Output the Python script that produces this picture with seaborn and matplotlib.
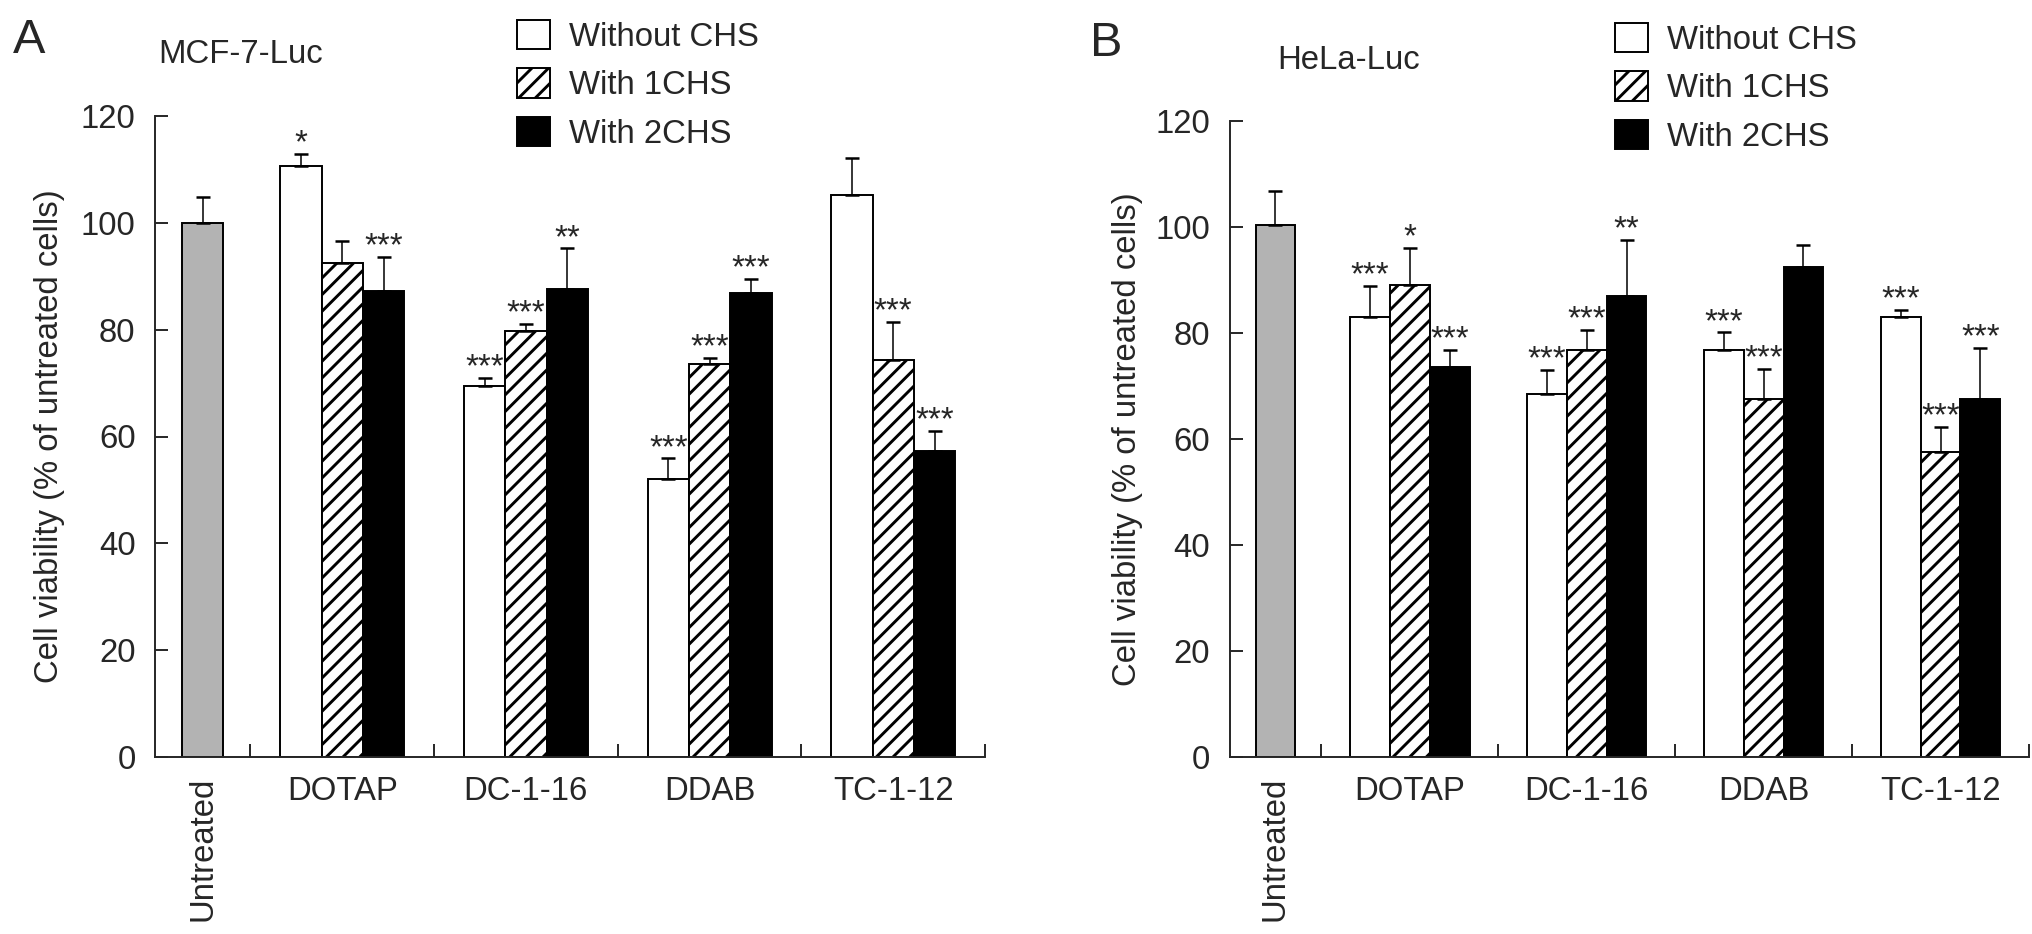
import numpy as np
import pandas as pd
import matplotlib
matplotlib.use('Agg')
import matplotlib.pyplot as plt
from matplotlib.patches import Patch
import seaborn as sns

# ---- data ----
groups = ['DOTAP', 'DC-1-16', 'DDAB', 'TC-1-12']
conditions = ['Without CHS', 'With 1CHS', 'With 2CHS']

mcf_untreated = 100.0
mcf_untreated_err = 4.9
mcf_without = [110.6, 69.4, 52.0, 105.2]
mcf_without_err = [2.3, 1.5, 3.9, 6.9]
mcf_1chs = [92.5, 79.7, 73.6, 74.4]
mcf_1chs_err = [4.1, 1.4, 1.1, 7.0]
mcf_2chs = [87.3, 87.7, 86.8, 57.3]
mcf_2chs_err = [6.3, 7.5, 2.7, 3.8]
mcf_stars_without = ['*', '***', '***', '']
mcf_stars_1chs = ['', '***', '***', '***']
mcf_stars_2chs = ['***', '**', '***', '***']

hela_untreated = 100.3
hela_untreated_err = 6.4
hela_without = [83.0, 68.4, 76.8, 83.0]
hela_without_err = [5.9, 4.6, 3.3, 1.3]
hela_1chs = [89.0, 76.8, 67.6, 57.5]
hela_1chs_err = [7.1, 3.7, 5.7, 4.7]
hela_2chs = [73.5, 87.0, 92.4, 67.6]
hela_2chs_err = [3.3, 10.6, 4.2, 9.6]
hela_stars_without = ['***', '***', '***', '***']
hela_stars_1chs = ['*', '***', '***', '***']
hela_stars_2chs = ['***', '**', '', '***']

# ---- style ----
FS = 23.7
UNTREATED_SLOT = 0.52   # width of the Untreated slot, in lipid-group units
BAR_W = 0.225
COLORS = ['white', 'white', 'black']
HATCHES = ['', '//', '']
GRAY = '#b3b3b3'
LW = 1.4

sns.set_style('ticks')
plt.rcParams['font.family'] = ['Liberation Sans', 'DejaVu Sans']
plt.rcParams['hatch.linewidth'] = 2.1
plt.rcParams['hatch.color'] = 'black'


def draw_panel(ax, untreated, untreated_err, means, errs, stars):
    pos = [UNTREATED_SLOT / 2 + 0.5 + i for i in range(len(groups))]
    rows = []
    for c, cond in enumerate(conditions):
        for g in range(len(groups)):
            rows.append({'pos': pos[g], 'cond': cond, 'value': means[c][g]})
    df = pd.DataFrame(rows)

    sns.barplot(x=[0.0], y=[untreated], native_scale=True, width=BAR_W,
                color=GRAY, saturation=1, edgecolor='black', linewidth=LW,
                errorbar=None, ax=ax)
    sns.barplot(data=df, x='pos', y='value', hue='cond', hue_order=conditions,
                palette=COLORS, native_scale=True, width=BAR_W * 3, dodge=True,
                saturation=1, edgecolor='black', linewidth=LW, errorbar=None,
                legend=False, ax=ax)

    bar_conts = list(ax.containers)
    all_errs = [[untreated_err]] + errs
    all_stars = [['']] + stars
    for c, cont in enumerate(bar_conts):
        if c > 0 and HATCHES[c - 1]:
            for bar in cont:
                bar.set_hatch(HATCHES[c - 1])
        xs = [b.get_x() + b.get_width() / 2 for b in cont]
        hs = [b.get_height() for b in cont]
        ax.errorbar(xs, hs, yerr=[np.zeros(len(xs)), all_errs[c]], fmt='none',
                    ecolor='black', elinewidth=1.1, capsize=4.7, capthick=1.8,
                    zorder=1)
        for x, h, e, s in zip(xs, hs, all_errs[c], all_stars[c]):
            if s:
                ax.text(x, h + e + 0.3, s, ha='center', va='baseline', fontsize=FS)

    ax.set_xlim(-UNTREATED_SLOT / 2, UNTREATED_SLOT / 2 + len(groups))
    ax.set_ylim(0, 120)
    ax.set_yticks(range(0, 121, 20))
    ax.set_xticks([0.0] + pos, ['Untreated'] + groups)
    ax.set_xticks([UNTREATED_SLOT / 2 + i for i in range(len(groups) + 1)], minor=True)
    ax.tick_params(axis='x', which='major', length=0, pad=14, labelsize=FS)
    ax.tick_params(axis='x', which='minor', direction='in', length=9.4, width=LW)
    ax.tick_params(axis='y', direction='in', length=9.4, width=LW, pad=14, labelsize=FS)
    ax.get_xticklabels()[0].set_rotation(90)
    ax.set_xlabel('')
    ax.set_ylabel('Cell viability (% of untreated cells)', fontsize=FS)
    ax.yaxis.set_label_coords(-0.108, 0.5)
    sns.despine(ax=ax)
    for sp in ax.spines.values():
        sp.set_linewidth(LW)


def add_legend(ax, x, y):
    handles = [Patch(facecolor=COLORS[i], edgecolor='black', hatch=HATCHES[i], linewidth=LW)
               for i in range(len(conditions))]
    ax.legend(handles, conditions, loc='upper left', bbox_to_anchor=(x, y),
              bbox_transform=fig.transFigure, frameon=False, fontsize=FS,
              handlelength=1.0, handleheight=1.0, handletextpad=0.58,
              labelspacing=0.47, borderpad=0, borderaxespad=0)


W, H = 2032, 934
fig = plt.figure(figsize=(W / 100, H / 100), dpi=100)
axA = fig.add_axes([155 / W, 1 - 757 / H, 830 / W, 641 / H])
axB = fig.add_axes([1229.5 / W, 1 - 757 / H, 799.5 / W, 636 / H])

draw_panel(axA, mcf_untreated, mcf_untreated_err,
           [mcf_without, mcf_1chs, mcf_2chs],
           [mcf_without_err, mcf_1chs_err, mcf_2chs_err],
           [mcf_stars_without, mcf_stars_1chs, mcf_stars_2chs])
draw_panel(axB, hela_untreated, hela_untreated_err,
           [hela_without, hela_1chs, hela_2chs],
           [hela_without_err, hela_1chs_err, hela_2chs_err],
           [hela_stars_without, hela_stars_1chs, hela_stars_2chs])

add_legend(axA, 517 / W, 1 - 20 / H)
add_legend(axB, 1615 / W, 1 - 23 / H)

fig.text(13 / W, 1 - 18 / H, 'A', fontsize=35, ha='left', va='top')
fig.text(1090 / W, 1 - 21 / H, 'B', fontsize=35, ha='left', va='top')
fig.text(158 / W, 1 - 39 / H, 'MCF-7-Luc', fontsize=FS, ha='left', va='top')
fig.text(1277 / W, 1 - 45 / H, 'HeLa-Luc', fontsize=FS, ha='left', va='top')

fig.savefig('out.png', dpi=100)
